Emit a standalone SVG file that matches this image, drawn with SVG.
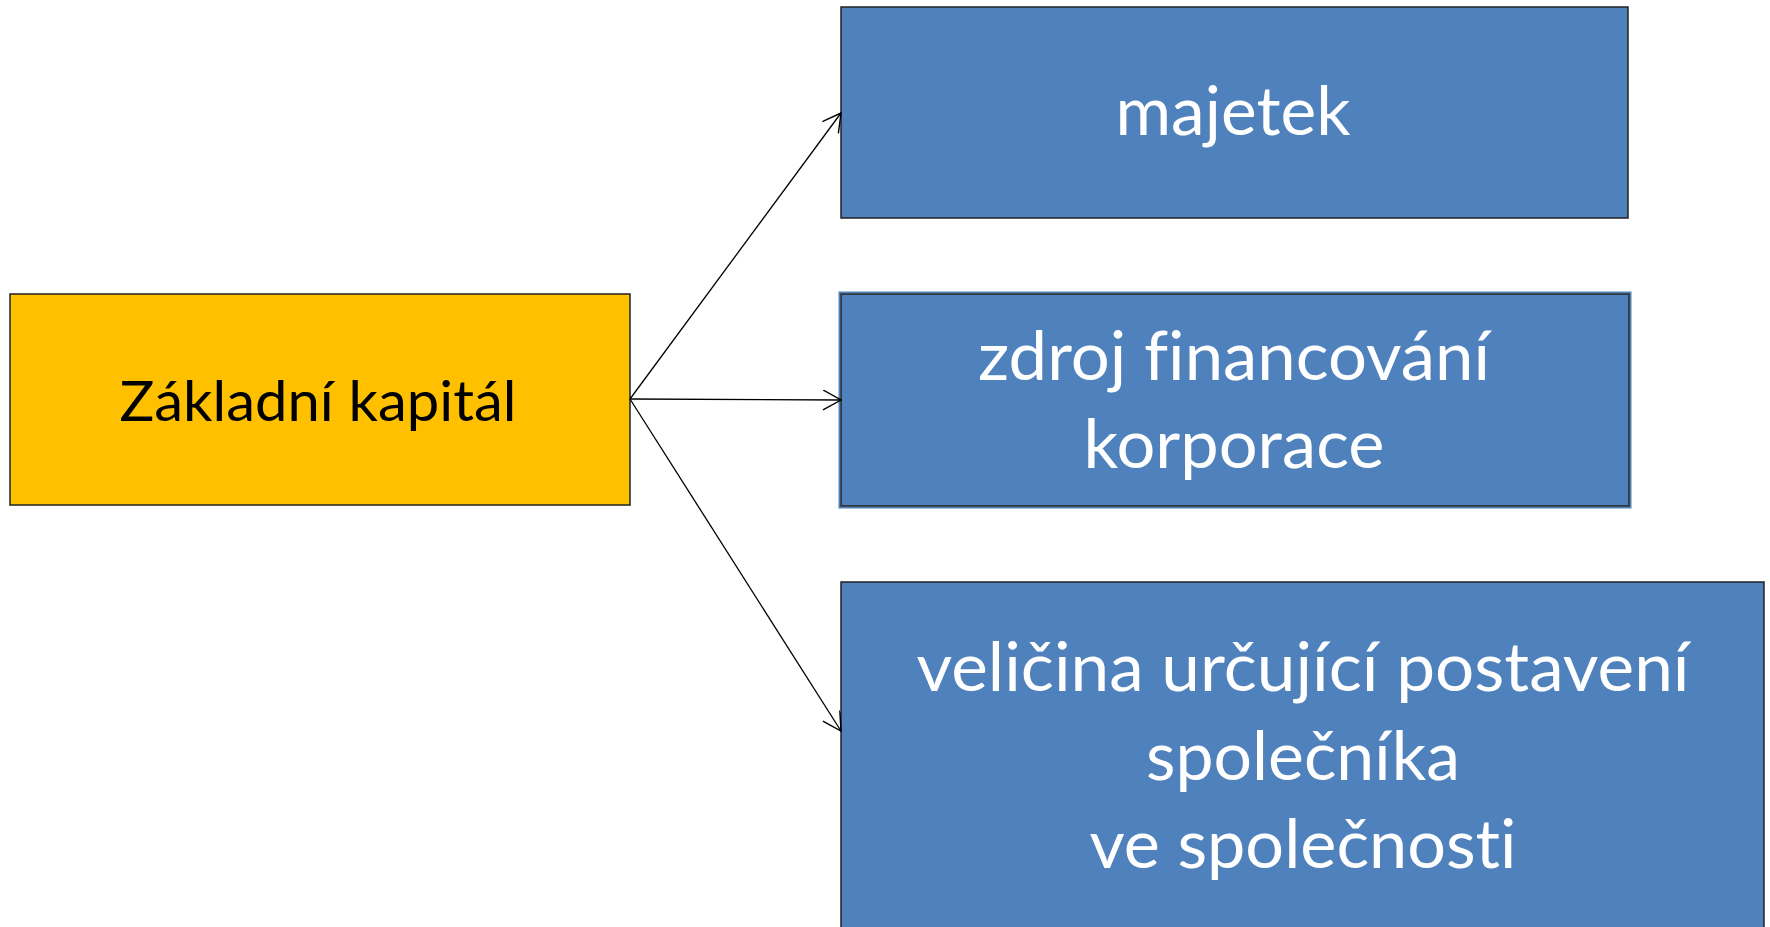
<svg xmlns="http://www.w3.org/2000/svg" width="1770" height="927" viewBox="0 0 1770 927">
<style>
.box{stroke:#222;stroke-width:1.5}
.blue{fill:#4F81BD}
.yellow{fill:#FFC000}
.t{font-family:Lato,"Open Sans","Liberation Sans",sans-serif;text-anchor:middle;font-variant-ligatures:none;font-feature-settings:"liga" 0,"clig" 0}
.w{fill:#fff;font-size:67px}
.k{fill:#000;font-size:56px}
.c{stroke:#000;stroke-width:1.3;fill:none}
</style>
<defs>
<marker id="arr" markerUnits="userSpaceOnUse" markerWidth="24" markerHeight="24" refX="19" refY="10" orient="auto" viewBox="0 0 24 24">
<path d="M1,0 L19,10 L1,20" fill="none" stroke="#000" stroke-width="1.4"/>
</marker>
</defs>
<rect width="1770" height="927" fill="#fff"/>
<g id="node-zakladni">
<rect class="box yellow" x="10" y="294" width="620" height="211"/>
<text class="t k" x="318" y="421" textLength="397" lengthAdjust="spacingAndGlyphs">Základní kapitál</text>
</g>
<g id="node-majetek">
<rect class="box blue" x="841" y="7" width="787" height="211"/>
<text class="t w" x="1233" y="135" textLength="235" lengthAdjust="spacingAndGlyphs">majetek</text>
</g>
<g id="node-zdroj">
<rect x="839.5" y="292.5" width="791" height="215" fill="none" stroke="#4F81BD" stroke-width="2"/>
<rect class="box blue" x="841" y="294" width="788" height="212" stroke-width="2"/>
<text class="t w" x="1234" y="380" textLength="512" lengthAdjust="spacingAndGlyphs">zdroj financování</text>
<text class="t w" x="1234" y="468" textLength="301" lengthAdjust="spacingAndGlyphs">korporace</text>
</g>
<g id="node-velicina">
<rect class="box blue" x="841" y="582" width="923" height="360"/>
<text class="t w" x="1303" y="691" textLength="773" lengthAdjust="spacingAndGlyphs">veličina určující postavení</text>
<text class="t w" x="1303" y="780" textLength="314" lengthAdjust="spacingAndGlyphs">společníka</text>
<text class="t w" x="1303" y="868" textLength="427" lengthAdjust="spacingAndGlyphs">ve společnosti</text>
</g>
<g id="connectors">
<line class="c" x1="630" y1="399" x2="841" y2="113" marker-end="url(#arr)"/>
<line class="c" x1="630" y1="399" x2="841" y2="400" marker-end="url(#arr)"/>
<line class="c" x1="630" y1="399" x2="841" y2="731" marker-end="url(#arr)"/>
</g>
</svg>
